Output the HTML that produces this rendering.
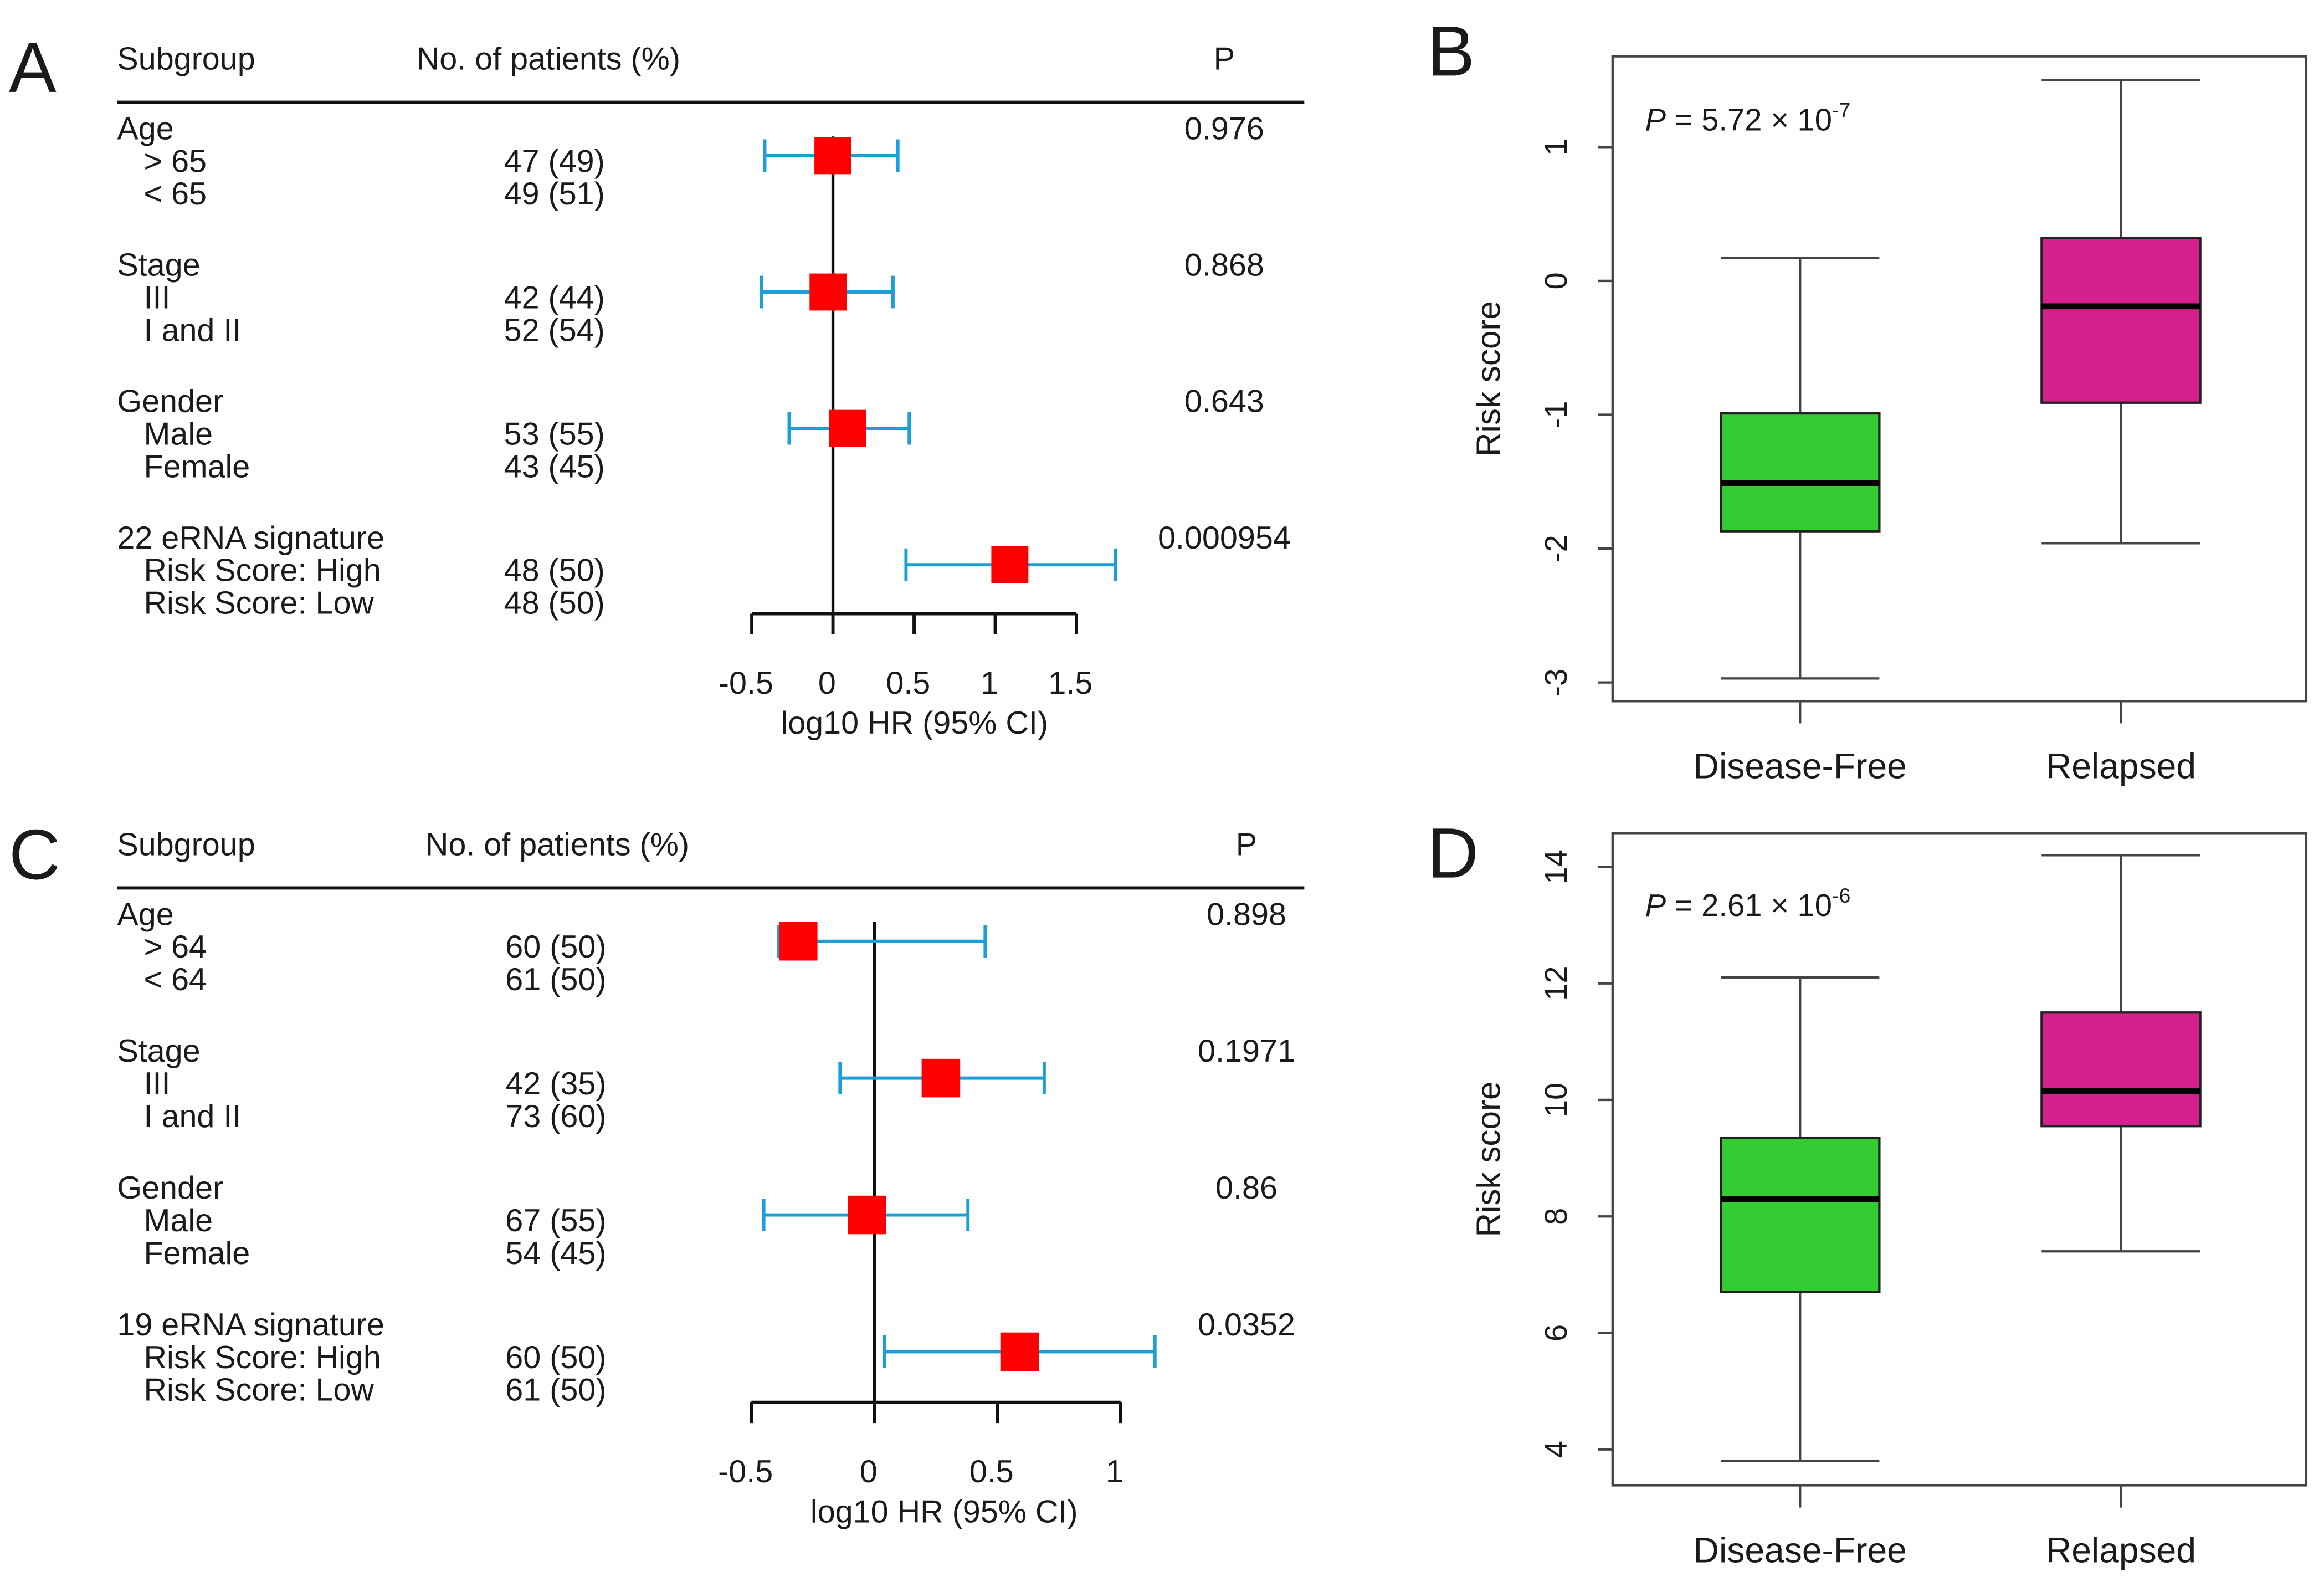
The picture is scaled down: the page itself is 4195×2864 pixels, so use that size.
<!DOCTYPE html>
<html><head><meta charset="utf-8">
<style>
html,body{margin:0;padding:0;background:#fff;}
svg{display:block;}
text{font-family:"Liberation Sans",Arial,sans-serif;fill:#1a1a1a;}
</style></head>
<body>
<svg id="fig" width="4195" height="2864" viewBox="0 0 1568 1070.6" preserveAspectRatio="none" xmlns="http://www.w3.org/2000/svg">
<g id="A"></g>
<g id="B"></g>
<g id="C"></g>
<g id="D"></g>
</svg>
<script>
// ---- Panel A data ----
const aLabels = ["Age","> 65","< 65","Stage","III","I and II","Gender","Male","Female","22 eRNA signature","Risk Score: High","Risk Score: Low"];
const aCounts = ["","47 (49)","49 (51)","","42 (44)","52 (54)","","53 (55)","43 (45)","","48 (50)","48 (50)"];
const aPvals = ["0.976","0.868","0.643","0.000954"];
const aEst = [0.0, -0.03, 0.09, 1.09];
const aLow = [-0.42, -0.44, -0.27, 0.45];
const aHigh = [0.40, 0.37, 0.47, 1.74];
const aTicks = [-0.5, 0, 0.5, 1, 1.5];
const aTickLabels = ["-0.5","0","0.5","1","1.5"];
// ---- Panel C data ----
const cLabels = ["Age","> 64","< 64","Stage","III","I and II","Gender","Male","Female","19 eRNA signature","Risk Score: High","Risk Score: Low"];
const cCounts = ["","60 (50)","61 (50)","","42 (35)","73 (60)","","67 (55)","54 (45)","","60 (50)","61 (50)"];
const cPvals = ["0.898","0.1971","0.86","0.0352"];
const cEst = [-0.31, 0.27, -0.03, 0.59];
const cLow = [-0.39, -0.14, -0.45, 0.04];
const cHigh = [0.45, 0.69, 0.38, 1.14];
const cTicks = [-0.5, 0, 0.5, 1];
const cTickLabels = ["-0.5","0","0.5","1"];
// ---- Panel B data ----
const groups = ["Disease-Free","Relapsed"];
const bMin = [-2.97, -1.96];
const bQ1 = [-1.87, -0.91];
const bMed = [-1.51, -0.19];
const bQ3 = [-0.99, 0.32];
const bMax = [0.17, 1.50];
const bTicks = [1, 0, -1, -2, -3];
// ---- Panel D data ----
const dMin = [3.8, 7.4];
const dQ1 = [6.7, 9.55];
const dMed = [8.3, 10.15];
const dQ3 = [9.35, 11.5];
const dMax = [12.1, 14.2];
const dTicks = [14, 12, 10, 8, 6, 4];

const NS = "http://www.w3.org/2000/svg";
function mk(parent, tag, attrs, txt){
  const e = document.createElementNS(NS, tag);
  for (const k in attrs) e.setAttribute(k, attrs[k]);
  if (txt !== undefined) e.textContent = txt;
  parent.appendChild(e);
  return e;
}
const FS = 21.5;
function forest(g, o){
  const x = v => o.x0 + v * o.scale;
  let t;
  t = mk(g,"text",{x:o.letterX,y:o.letterY,"font-size":48},o.letter);
  
  
  t = mk(g,"text",{x:79,y:o.headY,"font-size":FS},"Subgroup");
  
  
  t = mk(g,"text",{x:o.countHeadX,y:o.headY,"font-size":FS},"No. of patients (%)");
  
  
  t = mk(g,"text",{x:o.pX,y:o.headY,"font-size":FS,"text-anchor":"middle"},"P");
  
  
  let l = mk(g,"line",{x1:79,x2:880,y1:o.lineY,y2:o.lineY,stroke:"#111","stroke-width":2.2});
  
  
  for (let i=0;i<o.labels.length;i++){
    const grp = Math.floor(i/3), sub = i%3;
    const y = o.rowY0 + grp*o.grpStep + sub*22;
    t = mk(g,"text",{x: sub===0?79:97, y:y, "font-size":FS}, o.labels[i]);
    
    
    if (o.counts[i]){
      t = mk(g,"text",{x:o.countX,y:y,"font-size":FS},o.counts[i]);
      
      
    }
  }
  l = mk(g,"line",{x1:x(0),x2:x(0),y1:o.zeroTop,y2:o.axisY,stroke:"#111","stroke-width":2});
  
  
  for (let k=0;k<o.est.length;k++){
    const cy = o.boxY0 + k*o.grpStep;
    const p = mk(g,"text",{x:o.pX,y:o.rowY0 + k*o.grpStep,"font-size":FS,"text-anchor":"middle"},o.pvals[k]);
    
    
    const ci = mk(g,"path",{d:`M${x(o.low[k])},${cy-11}V${cy+11}M${x(o.low[k])},${cy}H${x(o.high[k])}M${x(o.high[k])},${cy-11}V${cy+11}`,stroke:"#1a9fd8","stroke-width":2.2,fill:"none"});
    
    
    const b = mk(g,"rect",{x:x(o.est[k])-o.box/2,y:cy-o.box/2,width:o.box,height:o.box,fill:"#ff0000"});
    
    
  }
  const ax = mk(g,"path",{d:`M${x(o.ticks[0])},${o.axisY}H${x(o.ticks[o.ticks.length-1])}`,stroke:"#111","stroke-width":2.2,fill:"none"});
  
  
  for (let k=0;k<o.ticks.length;k++){
    const tk = mk(g,"line",{x1:x(o.ticks[k]),x2:x(o.ticks[k]),y1:o.axisY,y2:o.axisY+14,stroke:"#111","stroke-width":2.2});
    
    
    const tl = mk(g,"text",{x:x(o.ticks[k])-4,y:o.axisY+54,"font-size":21.5,"text-anchor":"middle"},o.tickLabels[k]);
    
    
  }
  t = mk(g,"text",{x:o.titleX,y:o.axisY+81,"font-size":FS,"text-anchor":"middle"},"log10 HR (95% CI)");
  
  
}

forest(document.getElementById("A"),{letter:"A",letterX:6,letterY:62,headY:47,countHeadX:281,pX:826,lineY:69,
  labels:aLabels,counts:aCounts,countX:340,rowY0:94,grpStep:92,pvals:aPvals,est:aEst,low:aLow,high:aHigh,
  x0:562,scale:109.5,zeroTop:92,axisY:414,boxY0:105,box:25,ticks:aTicks,tickLabels:aTickLabels,titleX:617});
forest(document.getElementById("C"),{letter:"C",letterX:6,letterY:593,headY:577,countHeadX:287,pX:841,lineY:599,
  labels:cLabels,counts:cCounts,countX:341,rowY0:624,grpStep:92.3,pvals:cPvals,est:cEst,low:cLow,high:cHigh,
  x0:590,scale:166,zeroTop:622,axisY:946,boxY0:635,box:26,ticks:cTicks,tickLabels:cTickLabels,titleX:637});

function boxplot(g, o){
  const y = v => o.yRef + (o.vRef - v) * o.scale;
  const cx = [1214.5, 1431];
  let t = mk(g,"text",{x:963,y:o.letterY,"font-size":48},o.letter);
  
  
  const f = mk(g,"rect",{x:1088,y:o.top,width:468,height:o.bot-o.top,fill:"none",stroke:"#444","stroke-width":1.6});
  
  
  for (const v of o.ticks){
    const tk = mk(g,"line",{x1:1078,x2:1088,y1:y(v),y2:y(v),stroke:"#444","stroke-width":1.6});
    
    
    const tl = mk(g,"text",{x:0,y:0,"font-size":21,"text-anchor":"middle",transform:`translate(1057,${y(v)}) rotate(-90)`},String(v));
    
    
  }
  t = mk(g,"text",{x:0,y:0,"font-size":22.5,"text-anchor":"middle",transform:`translate(1012,${(o.top+o.bot)/2}) rotate(-90)`},"Risk score");
  
  
  t = mk(g,"text",{x:1110,y:o.pY,"font-size":21,fill:"#333"});
  
  
  mk(t,"tspan",{"font-style":"italic"},"P");
  mk(t,"tspan",{},o.pText);
  mk(t,"tspan",{"font-size":14,dy:-9},o.pExp);
  const fills = ["#33cc33","#d4208c"];
  for (let i=0;i<2;i++){
    const w = 107, c = cx[i];
    const wh = mk(g,"path",{d:`M${c-w/2},${y(o.max[i])}H${c+w/2}M${c},${y(o.max[i])}V${y(o.q3[i])}M${c},${y(o.q1[i])}V${y(o.min[i])}M${c-w/2},${y(o.min[i])}H${c+w/2}`,stroke:"#444","stroke-width":1.6,fill:"none"});
    
    
    const b = mk(g,"rect",{x:c-w/2,y:y(o.q3[i]),width:w,height:y(o.q1[i])-y(o.q3[i]),fill:fills[i],stroke:"#222","stroke-width":1.6});
    
    
    const m = mk(g,"line",{x1:c-w/2,x2:c+w/2,y1:y(o.med[i]),y2:y(o.med[i]),stroke:"#000","stroke-width":4});
    
    
    const xt = mk(g,"line",{x1:c,x2:c,y1:o.bot,y2:o.bot+15,stroke:"#444","stroke-width":1.6});
    
    
    const xl = mk(g,"text",{x:c,y:o.bot+52,"font-size":24,"text-anchor":"middle"},groups[i]);
    
    
  }
}
boxplot(document.getElementById("B"),{letter:"B",letterY:51,top:38,bot:473,yRef:189.5,vRef:0,scale:90.3,ticks:bTicks,
  min:bMin,q1:bQ1,med:bMed,q3:bQ3,max:bMax,pY:88,pText:" = 5.72 × 10",pExp:"-7"});
boxplot(document.getElementById("D"),{letter:"D",letterY:592,top:562,bot:1002,yRef:742,vRef:10,scale:39.3,ticks:dTicks,
  min:dMin,q1:dQ1,med:dMed,q3:dQ3,max:dMax,pY:618,pText:" = 2.61 × 10",pExp:"-6"});
</script>
</body></html>
